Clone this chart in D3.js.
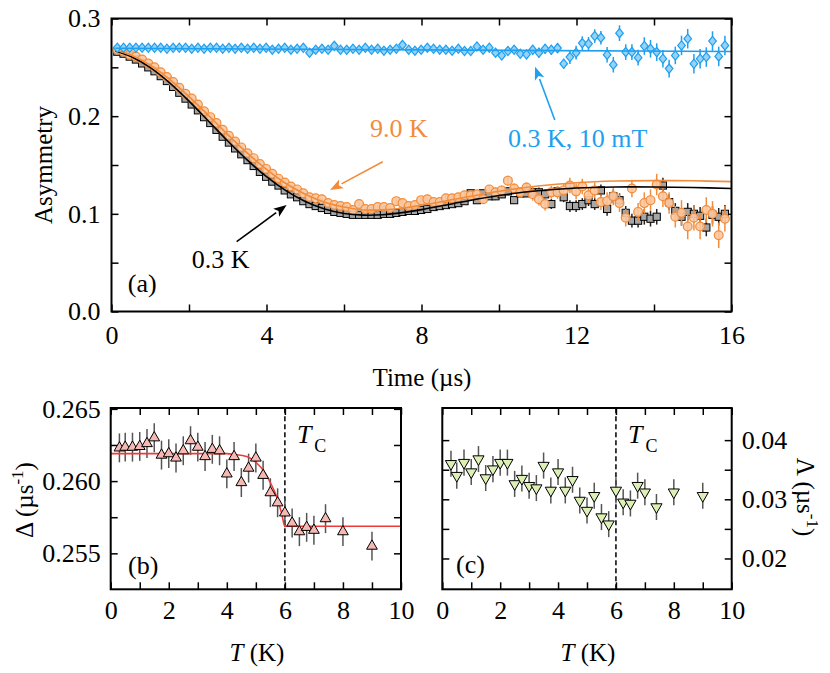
<!DOCTYPE html>
<html>
<head>
<meta charset="utf-8">
<script src="https://cdn.jsdelivr.net/npm/d3@7"></script>
<style>
  body { margin: 0; background: #fff; }
  svg { display: block; }
  text { font-family: "Liberation Serif", "Times New Roman", serif; }
</style>
</head>
<body>
<div id="chart"></div>
<script>
// ---- panel (a): asymmetry vs time ----
const timeBins = [0.15,0.31,0.47,0.63,0.79,0.95,1.11,1.27,1.43,1.59,
  1.75,1.91,2.07,2.23,2.39,2.55,2.71,2.87,3.03,3.19,
  3.35,3.51,3.67,3.83,3.99,4.15,4.31,4.47,4.63,4.79,
  4.95,5.11,5.27,5.43,5.59,5.75,5.91,6.07,6.23,6.39,
  6.55,6.71,6.87,7.03,7.19,7.35,7.51,7.67,7.83,7.99,
  8.15,8.31,8.47,8.63,8.79,8.95,9.11,9.27,9.43,9.59,
  9.75,9.91,10.07,10.23,10.39,10.55,10.71,10.87,11.03,11.19,
  11.35,11.51,11.67,11.83,11.99,12.15,12.31,12.47,12.63,12.79,
  12.95,13.11,13.27,13.43,13.59,13.75,13.91,14.07,14.23,14.39,
  14.55,14.71,14.87,15.03,15.19,15.35,15.51,15.67,15.83];

// 0.3 K, zero field (black squares)
const asym03K = [0.266,0.264,0.261,0.258,0.254,0.250,0.246,0.241,0.236,0.230,
  0.224,0.218,0.212,0.206,0.199,0.193,0.186,0.179,0.173,0.167,
  0.161,0.155,0.149,0.143,0.138,0.133,0.129,0.124,0.120,0.117,
  0.113,0.110,0.108,0.106,0.104,0.102,0.101,0.100,0.099,0.099,
  0.099,0.099,0.099,0.100,0.100,0.101,0.102,0.103,0.103,0.104,
  0.105,0.107,0.108,0.109,0.110,0.111,0.113,0.121,0.114,0.121,
  0.118,0.118,0.120,0.123,0.114,0.121,0.121,0.122,0.122,0.120,
  0.110,0.123,0.117,0.108,0.108,0.110,0.114,0.110,0.124,0.105,
  0.118,0.114,0.101,0.093,0.093,0.097,0.095,0.097,0.129,0.112,
  0.103,0.097,0.102,0.100,0.098,0.086,0.099,0.097,0.100];

// 9.0 K, zero field (orange circles)
const asym90K = [0.268,0.266,0.263,0.261,0.258,0.254,0.250,0.245,0.240,0.235,
  0.229,0.223,0.218,0.212,0.205,0.199,0.193,0.186,0.180,0.174,
  0.168,0.162,0.157,0.151,0.146,0.141,0.136,0.132,0.128,0.125,
  0.121,0.117,0.116,0.115,0.111,0.109,0.108,0.107,0.104,0.110,
  0.105,0.105,0.107,0.107,0.106,0.113,0.111,0.108,0.109,0.114,
  0.115,0.112,0.112,0.116,0.116,0.117,0.119,0.119,0.120,0.115,
  0.125,0.122,0.124,0.134,0.126,0.122,0.127,0.120,0.115,0.110,
  0.122,0.122,0.124,0.129,0.123,0.128,0.119,0.124,0.112,0.113,
  0.118,0.111,0.096,0.126,0.102,0.111,0.114,0.130,0.118,0.111,
  0.097,0.101,0.087,0.096,0.087,0.104,0.100,0.078,0.095];

// 0.3 K, 10 mT longitudinal field (blue diamonds)
const asymLF = [0.270,0.270,0.270,0.270,0.270,0.270,0.270,0.270,0.269,0.270,
  0.270,0.270,0.269,0.270,0.269,0.270,0.270,0.269,0.270,0.269,
  0.270,0.269,0.270,0.269,0.270,0.268,0.269,0.270,0.268,0.269,
  0.270,0.265,0.268,0.269,0.268,0.272,0.268,0.268,0.269,0.268,
  0.270,0.268,0.269,0.267,0.268,0.269,0.273,0.268,0.267,0.268,
  0.270,0.269,0.268,0.268,0.267,0.269,0.2667,0.2667,0.2714,0.2680,
  0.2701,0.2650,0.2622,0.2667,0.2680,0.2639,0.2633,0.2680,0.2650,0.2690,
  0.2680,0.2697,0.2537,0.2605,0.2650,0.2748,0.2741,0.2820,0.2803,0.2629,
  0.2527,0.2850,0.2656,0.2656,0.2599,0.2718,0.2690,0.2656,0.2588,0.2487,
  0.2622,0.2724,0.2793,0.2537,0.2588,0.2605,0.2769,0.2612,0.2724];

// error bar size per time band (band starts at errBandStart)
const errBandStart = [0, 4.1, 5.7, 7.3, 8.6, 9.9, 10.8, 11.8, 12.7, 13.7, 14.7];
const err03K = [0.001,0.0012,0.0015,0.002,0.003,0.004,0.005,0.006,0.007,0.008,0.009];
const err90K = [0.001,0.0015,0.002,0.003,0.004,0.005,0.0065,0.008,0.009,0.011,0.013];
const errLF  = [0.001,0.0012,0.0015,0.002,0.003,0.004,0.005,0.007,0.008,0.009,0.010];

// fitted curves
const fitTime = [0.1,0.5,1,1.5,2,2.5,3,3.5,4,4.5,5,5.5,6,6.5,7,7.5,8,9,10,11,12,13,14,15,16];
const fit03K = [0.2668,0.2610,0.2497,0.2341,0.2154,0.1951,0.1746,0.1553,0.1380,0.1237,0.1126,0.1050,0.1004,0.0987,0.0991,0.1012,0.1043,0.1118,0.1187,0.1236,0.1265,0.1275,0.1275,0.1270,0.1260];
const fit90K = [0.2676,0.2627,0.2523,0.2377,0.2200,0.2009,0.1811,0.1624,0.1456,0.1311,0.1201,0.1119,0.1070,0.1040,0.1041,0.1057,0.1088,0.1160,0.1231,0.1285,0.1319,0.1336,0.1340,0.1338,0.1330];
const fitLFTime = [0.1, 16];
const fitLF = [0.2695, 0.2662];

// ---- panels (b), (c): temperature dependence ----
const temps = [0.3,0.5,0.75,1.0,1.25,1.5,1.75,2.0,2.25,2.5,2.75,3.0,3.25,3.5,3.75,4.0,
  4.25,4.5,4.75,5.0,5.25,5.5,5.75,6.0,6.25,6.5,6.75,7.0,7.4,8.0,9.0];
const delta = [0.2623,0.26235,0.26235,0.2624,0.2626,0.2630,0.2618,0.2619,0.2616,0.2621,0.2628,0.26235,
  0.2617,0.2622,0.2621,0.2605,0.2617,0.2599,0.2609,0.2616,0.2604,0.2592,0.2585,0.2578,
  0.2571,0.2565,0.2568,0.2566,0.2574,0.2565,0.2555];
const deltaErr = 0.001;
const lambda = [0.0360,0.0340,0.0362,0.0346,0.0368,0.0336,0.0351,0.0362,0.0362,0.0326,0.0335,0.0323,
  0.0319,0.0357,0.0315,0.0346,0.0315,0.0333,0.0298,0.0281,0.0306,0.0270,0.0258,0.0315,
  0.0295,0.0293,0.0323,0.0312,0.0287,0.0312,0.0306];
const lambdaErr = 0.0022;
const fitDeltaT = [0,4.0,4.22,4.68,5.03,5.26,5.49,5.72,5.89,6.0,10];
const fitDelta = [0.2619,0.2619,0.26185,0.26171,0.26124,0.26074,0.25993,0.2589,0.25775,0.25687,0.25687];
const Tc = 6;

// colours
const cBlack = "#000", cGray = "#a6a6a6";
const cOrange = "#f28c3a", cOrangeFill = "#f9c7a0";
const cBlue = "#1e9ff0", cBlueFill = "#94d2f6";
const cRed = "#f03a3a", cPink = "#f5b8b2";
const cGreenFill = "#dcefb4";

const svg = d3.select("#chart").append("svg").attr("width", 830).attr("height", 673);

function errAt(t, table) {
  let i = d3.bisectRight(errBandStart, t) - 1;
  return table[Math.max(0, i)];
}

function addAxis(gen, tr, scale, values, fmt, pad) {
  const g = svg.append("g").attr("transform", tr)
    .call(gen(scale).tickValues(values).tickSize(-7).tickPadding(pad).tickFormat(fmt));
  g.attr("font-family", null).attr("font-size", null);
  g.select(".domain").remove();
  g.selectAll(".tick line").attr("stroke", "#000").attr("stroke-width", 1.5);
  g.selectAll(".tick text").attr("fill", "#000").style("font-size", "26px");
  return g;
}

function frame(x, y) {
  svg.append("rect")
    .attr("x", x.range()[0]).attr("y", y.range()[1])
    .attr("width", x.range()[1] - x.range()[0])
    .attr("height", y.range()[0] - y.range()[1])
    .attr("fill", "none").attr("stroke", "#000").attr("stroke-width", 2);
}

// ================= panel (a) =================
const xA = d3.scaleLinear().domain([0, 16]).range([111.5, 731.5]);
const yA = d3.scaleLinear().domain([0, 0.3]).range([311.5, 18.5]);

const none = () => "";
addAxis(d3.axisBottom, `translate(0,${yA.range()[0]})`, xA, d3.range(0, 17, 2), d => d % 4 === 0 ? d : "", 14);
addAxis(d3.axisTop, `translate(0,${yA.range()[1]})`, xA, d3.range(0, 17, 2), none, 0);
addAxis(d3.axisLeft, `translate(${xA.range()[0]},0)`, yA, d3.range(0, 0.301, 0.05), d => Math.round(d * 100) % 10 === 0 ? d3.format(".1f")(d) : "", 11);
addAxis(d3.axisRight, `translate(${xA.range()[1]},0)`, yA, d3.range(0, 0.301, 0.05), none, 0);

const plotA = svg.append("g");

function errBars(g, xs, ys, errTable, color) {
  g.append("g").selectAll("line").data(xs).join("line")
    .attr("x1", d => xA(d)).attr("x2", d => xA(d))
    .attr("y1", (d, i) => yA(ys[i] - errAt(d, errTable)))
    .attr("y2", (d, i) => yA(ys[i] + errAt(d, errTable)))
    .attr("stroke", color).attr("stroke-width", 1.5);
}

const lineA = (xs, ys) => d3.line().curve(d3.curveCatmullRom)
  .x((d, i) => xA(xs[i])).y(d => yA(d))(ys);

// 0.3 K squares
errBars(plotA, timeBins, asym03K, err03K, "#222");
plotA.append("g").selectAll("rect").data(timeBins).join("rect")
  .attr("x", d => xA(d) - 3.6).attr("y", (d, i) => yA(asym03K[i]) - 3.6)
  .attr("width", 7.2).attr("height", 7.2)
  .attr("fill", cGray).attr("stroke", cBlack).attr("stroke-width", 1);

// 9.0 K circles
errBars(plotA, timeBins, asym90K, err90K, cOrange);
plotA.append("g").selectAll("circle").data(timeBins).join("circle")
  .attr("cx", d => xA(d)).attr("cy", (d, i) => yA(asym90K[i])).attr("r", 4.4)
  .attr("fill", cOrangeFill).attr("fill-opacity", 0.9)
  .attr("stroke", cOrange).attr("stroke-width", 1.2);

plotA.append("path").attr("d", lineA(fitTime, fit03K))
  .attr("fill", "none").attr("stroke", cBlack).attr("stroke-width", 1.6);
plotA.append("path").attr("d", lineA(fitTime, fit90K))
  .attr("fill", "none").attr("stroke", cOrange).attr("stroke-width", 1.6);

// 10 mT diamonds
errBars(plotA, timeBins, asymLF, errLF, cBlue);
plotA.append("g").selectAll("path").data(timeBins).join("path")
  .attr("d", "M0,-4.6L3.8,0L0,4.6L-3.8,0Z")
  .attr("transform", (d, i) => `translate(${xA(d)},${yA(asymLF[i])})`)
  .attr("fill", cBlueFill).attr("stroke", cBlue).attr("stroke-width", 1.2);
plotA.append("path").attr("d", lineA(fitLFTime, fitLF))
  .attr("fill", "none").attr("stroke", cBlue).attr("stroke-width", 1.6);

frame(xA, yA);

// arrows and notes
function arrow(x0, y0, x1, y1, color) {
  const X0 = xA(x0), Y0 = yA(y0), X1 = xA(x1), Y1 = yA(y1);
  const a = Math.atan2(Y1 - Y0, X1 - X0), L = 13, w = 5;
  const bx = X1 - L * Math.cos(a), by = Y1 - L * Math.sin(a);
  svg.append("line").attr("x1", X0).attr("y1", Y0).attr("x2", bx).attr("y2", by)
    .attr("stroke", color).attr("stroke-width", 1.6);
  svg.append("path")
    .attr("d", `M${X1},${Y1}L${bx - w * Math.sin(a)},${by + w * Math.cos(a)}L${bx + 3 * Math.cos(a)},${by + 3 * Math.sin(a)}L${bx + w * Math.sin(a)},${by - w * Math.cos(a)}Z`)
    .attr("fill", color);
}
arrow(3.23, 0.0715, 4.52, 0.109, cBlack);
arrow(7.0, 0.1534, 5.64, 0.1244, cOrange);
arrow(11.44, 0.196, 10.93, 0.2506, cBlue);

function note(t, a, txt, color) {
  svg.append("text").attr("x", xA(t)).attr("y", yA(a)).text(txt)
    .attr("fill", color).style("font-size", "26px");
}
note(2.07, 0.0445, "0.3 K", cBlack);
note(6.67, 0.179, "9.0 K", cOrange);
note(10.23, 0.1685, "0.3 K, 10 mT", cBlue);
note(0.42, 0.02, "(a)", cBlack);

svg.append("text").attr("transform", "translate(52,165) rotate(-90)")
  .attr("text-anchor", "middle").style("font-size", "25px").text("Asymmetry");
svg.append("text").attr("x", 422).attr("y", 386)
  .attr("text-anchor", "middle").style("font-size", "25px").text("Time (µs)");

// ================= panels (b) and (c) =================
const xB = d3.scaleLinear().domain([0, 10]).range([110.7, 401]);
const yB = d3.scaleLinear().domain([0.25251, 0.26506]).range([589.3, 408]);
const xC = d3.scaleLinear().domain([0, 10]).range([442.3, 731.7]);
const yC = d3.scaleLinear().domain([0.01479, 0.04543]).range([589.3, 408]);

addAxis(d3.axisBottom, `translate(0,${yB.range()[0]})`, xB, d3.range(0, 11), d => d % 2 === 0 ? d : "", 11);
addAxis(d3.axisTop, `translate(0,${yB.range()[1]})`, xB, d3.range(0, 11), none, 0);
addAxis(d3.axisLeft, `translate(${xB.range()[0]},0)`, yB, [0.255, 0.2575, 0.26, 0.2625, 0.265],
  d => [0.255, 0.26, 0.265].includes(d) ? d3.format(".3f")(d) : "", 10);
addAxis(d3.axisRight, `translate(${xB.range()[1]},0)`, yB, [0.255, 0.2575, 0.26, 0.2625, 0.265], none, 0);

addAxis(d3.axisBottom, `translate(0,${yC.range()[0]})`, xC, d3.range(0, 11), d => d % 2 === 0 ? d : "", 11);
addAxis(d3.axisTop, `translate(0,${yC.range()[1]})`, xC, d3.range(0, 11), none, 0);
addAxis(d3.axisLeft, `translate(${xC.range()[0]},0)`, yC, [0.02, 0.025, 0.03, 0.035, 0.04], none, 0);
addAxis(d3.axisRight, `translate(${xC.range()[1]},0)`, yC, [0.02, 0.025, 0.03, 0.035, 0.04],
  d => [0.02, 0.03, 0.04].includes(d) ? d3.format(".2f")(d) : "", 10);

function tcLine(x, y) {
  svg.append("line").attr("x1", x(Tc)).attr("x2", x(Tc))
    .attr("y1", y.range()[0]).attr("y2", y.range()[1])
    .attr("stroke", "#000").attr("stroke-width", 1.5).attr("stroke-dasharray", "5,3");
  const t = svg.append("text").attr("x", x(Tc) + 12).attr("y", 443).style("font-size", "26px");
  t.append("tspan").attr("font-style", "italic").text("T");
  t.append("tspan").attr("dx", 3).attr("dy", 9).style("font-size", "18px").text("C");
}
tcLine(xB, yB);
tcLine(xC, yC);

// (b) delta
svg.append("g").selectAll("line").data(temps).join("line")
  .attr("x1", d => xB(d)).attr("x2", d => xB(d))
  .attr("y1", (d, i) => yB(delta[i] - deltaErr)).attr("y2", (d, i) => yB(delta[i] + deltaErr))
  .attr("stroke", "#555").attr("stroke-width", 1.5);
svg.append("path")
  .attr("d", d3.line().curve(d3.curveMonotoneX).x((d, i) => xB(fitDeltaT[i])).y(d => yB(d))(fitDelta))
  .attr("fill", "none").attr("stroke", cRed).attr("stroke-width", 1.6);
svg.append("g").selectAll("path").data(temps).join("path")
  .attr("d", d3.symbol(d3.symbolTriangle, 50)())
  .attr("transform", (d, i) => `translate(${xB(d)},${yB(delta[i])})`)
  .attr("fill", cPink).attr("stroke", "#000").attr("stroke-width", 1);
frame(xB, yB);

// (c) lambda
svg.append("g").selectAll("line").data(temps).join("line")
  .attr("x1", d => xC(d)).attr("x2", d => xC(d))
  .attr("y1", (d, i) => yC(lambda[i] - lambdaErr)).attr("y2", (d, i) => yC(lambda[i] + lambdaErr))
  .attr("stroke", "#555").attr("stroke-width", 1.5);
svg.append("g").selectAll("path").data(temps).join("path")
  .attr("d", d3.symbol(d3.symbolTriangle, 54)())
  .attr("transform", (d, i) => `translate(${xC(d)},${yC(lambda[i])}) rotate(180)`)
  .attr("fill", cGreenFill).attr("stroke", "#000").attr("stroke-width", 1);
frame(xC, yC);

svg.append("text").attr("x", 128).attr("y", 574).style("font-size", "26px").text("(b)");
svg.append("text").attr("x", 456).attr("y", 573).style("font-size", "26px").text("(c)");

function tLabel(cx) {
  const t = svg.append("text").attr("x", cx).attr("y", 661).attr("text-anchor", "middle").style("font-size", "25px");
  t.append("tspan").attr("font-style", "italic").text("T");
  t.append("tspan").text(" (K)");
}
tLabel(257);
tLabel(588);

const dl = svg.append("text").attr("transform", "translate(33,500) rotate(-90)")
  .attr("text-anchor", "middle").style("font-size", "25px");
dl.append("tspan").text("Δ (µs");
dl.append("tspan").attr("dy", -10).style("font-size", "17px").text("-1");
dl.append("tspan").attr("dy", 10).text(")");

const ll = svg.append("text").attr("transform", "translate(797,497) rotate(90)")
  .attr("text-anchor", "middle").style("font-size", "25px");
ll.append("tspan").text("Λ (µs");
ll.append("tspan").attr("dy", -10).style("font-size", "17px").text("-1");
ll.append("tspan").attr("dy", 10).text(")");
</script>
</body>
</html>
